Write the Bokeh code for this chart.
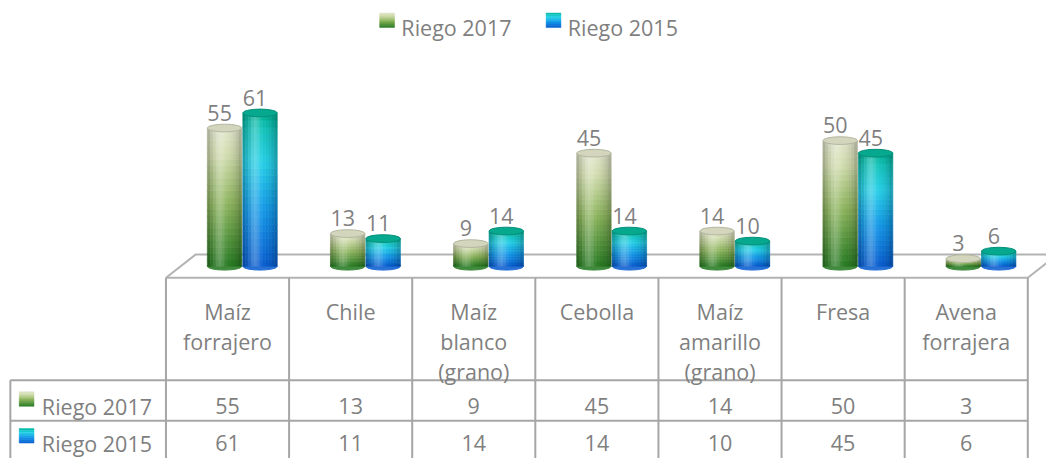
import math
from bokeh.plotting import figure
from bokeh.models import Range1d, ColumnDataSource
from bokeh.core.properties import value
from bokeh.embed import file_html
from bokeh.resources import INLINE

# ---------------- data ----------------
categories = ["Maíz\nforrajero", "Chile", "Maíz\nblanco\n(grano)", "Cebolla",
              "Maíz\namarillo\n(grano)", "Fresa", "Avena\nforrajera"]
riego_2017 = [55, 13, 9, 45, 14, 50, 3]
riego_2015 = [61, 11, 14, 14, 10, 45, 6]
series_names = ["Riego 2017", "Riego 2015"]

# ---------------- layout (reference pixel geometry, 1062 x 474) ----------------
W, H = 1046, 458
REF_W, REF_H = 1062, 474
COL0 = 230.5       # x centre of first category column
COLW = 125.0       # column width
BASE = 275.0       # y of value 0
PXU = 2.6          # pixels per value unit

def ux(X):
    return (X - COL0) / COLW

def vy(Y):
    return (BASE - Y) / PXU

FONT = value("Open Sans")
FSIZE = "21.5px"
TCOL = "#7f7f7f"
GRID = "#a6a6a6"

p = figure(width=W, height=H, output_backend="svg", toolbar_location=None,
           x_range=Range1d(ux(0), ux(REF_W)), y_range=Range1d(vy(REF_H), vy(0)),
           x_axis_location=None, y_axis_location=None, min_border=0,
           outline_line_color=None, background_fill_color="white",
           border_fill_color="white")
p.grid.visible = False

# ---------------- colours ----------------
stops = [
    [(0.0, (38, 122, 34)), (0.45, (140, 180, 92)), (0.8, (208, 220, 172)), (1.0, (226, 230, 204))],
    [(0.0, (8, 92, 208)), (0.35, (18, 150, 232)), (0.68, (36, 208, 232)), (0.9, (16, 196, 186)), (1.0, (0, 176, 148))],
]
cap_fill = ["#d3d6bd", "#06a88e"]
cap_line = ["#b4b7a0", "#04907a"]

def lerp_stops(st, f):
    for (f0, c0), (f1, c1) in zip(st, st[1:]):
        if f <= f1:
            t = (f - f0) / (f1 - f0)
            return tuple(c0[k] + (c1[k] - c0[k]) * t for k in range(3))
    return st[-1][1]

def to_hex(c):
    return "#%02x%02x%02x" % tuple(max(0, min(255, int(round(x)))) for x in c)

def shade(c, t):
    dark = 0.68 + 0.32 * math.sin(math.pi * t) ** 0.6
    hl = 0.26 * math.exp(-((t - 0.36) / 0.16) ** 2)
    r = [ch * dark for ch in c]
    r = [x + (255 - x) * hl for x in r]
    return to_hex(r)

# ---------------- floor ----------------
p.patch(x=[ux(168), ux(1043), ux(1073), ux(198)], y=[vy(287), vy(287), vy(263), vy(263)],
        fill_color="white", line_color="#b3b3b3", line_width=2)

# ---------------- table grid ----------------
x0, y0, x1, y1 = [], [], [], []
for k in range(len(categories) + 1):
    X = 168 + COLW * k
    x0.append(ux(X)); x1.append(ux(X)); y0.append(vy(287)); y1.append(vy(480))
x0.append(ux(10)); x1.append(ux(10)); y0.append(vy(393)); y1.append(vy(480))
for Y in (393, 435):
    x0.append(ux(10)); x1.append(ux(168 + COLW * len(categories))); y0.append(vy(Y)); y1.append(vy(Y))
p.segment(x0=x0, y0=y0, x1=x1, y1=y1, line_color=GRID, line_width=2)

# ---------------- cylinders ----------------
series = [riego_2017, riego_2015]
offs = [-3 / COLW, 33 / COLW]
BW = 35 / COLW
ELL = 8 / PXU
NV, NH = 22, 12

for s, vals in enumerate(series):
    ql, qr, qb, qt, qc = [], [], [], [], []
    ex, ey, ec = [], [], []
    tx, ty, tt = [], [], []
    for i, val in enumerate(vals):
        cx = i + offs[s]
        ex.append(cx); ey.append(0); ec.append(shade(lerp_stops(stops[s], 0.0), 0.5))
        for a in range(NV):
            b0 = val * a / NV
            b1 = val * (a + 1) / NV
            base_c = lerp_stops(stops[s], (a + 0.5) / NV)
            for h in range(NH):
                l = cx - BW / 2 + BW * h / NH
                ql.append(l); qr.append(l + BW / NH); qb.append(b0); qt.append(b1)
                qc.append(shade(base_c, (h + 0.5) / NH))
        tx.append(cx - 5 / COLW); ty.append(val + 16 / PXU); tt.append(str(val))
    p.ellipse(x=ex, y=ey, width=BW, height=ELL, fill_color=ec, line_color=ec)
    src = ColumnDataSource(dict(left=ql, right=qr, bottom=qb, top=qt, color=qc))
    p.quad(left="left", right="right", bottom="bottom", top="top", source=src,
           fill_color="color", line_color="color", line_width=0.6)
    p.ellipse(x=[i + offs[s] for i in range(len(vals))], y=vals, width=BW, height=ELL,
              fill_color=cap_fill[s], line_color=cap_line[s], line_width=1)
    p.text(x=tx, y=ty, text=tt, text_font=FONT, text_font_size=FSIZE, text_color=TCOL,
           text_align="center", text_baseline="alphabetic")

# ---------------- table header text ----------------
hx, hy, ht = [], [], []
for i, cat in enumerate(categories):
    for j, line in enumerate(cat.split("\n")):
        hx.append(i); hy.append(vy(322 + 31 * j)); ht.append(line)
p.text(x=hx, y=hy, text=ht, text_font=FONT, text_font_size=FSIZE, text_color=TCOL,
       text_align="center", text_baseline="alphabetic")

# ---------------- table values ----------------
row_base = [420, 458]
for s, vals in enumerate(series):
    p.text(x=list(range(len(vals))), y=[vy(row_base[s])] * len(vals), text=[str(v) for v in vals],
           text_font=FONT, text_font_size=FSIZE, text_color=TCOL,
           text_align="center", text_baseline="alphabetic")

# ---------------- swatches ----------------
def swatch(X0, Y0, size, s):
    n = 8
    L, R, B, T, C = [], [], [], [], []
    for k in range(n):
        ya = Y0 + size * k / n
        yb = Y0 + size * (k + 1) / n
        f = 1 - (k + 0.5) / n
        L.append(ux(X0)); R.append(ux(X0 + size)); T.append(vy(ya)); B.append(vy(yb))
        C.append(to_hex(lerp_stops(stops[s], f)))
    p.quad(left=L, right=R, bottom=B, top=T, fill_color=C, line_color=C, line_width=0.5)

# table row labels
for s in range(2):
    swatch(19, row_base[s] - 15, 15, s)
    p.text(x=[ux(42)], y=[vy(row_base[s])], text=[series_names[s]], text_font=FONT,
           text_font_size=FSIZE, text_color=TCOL, text_align="left", text_baseline="alphabetic")

# legend
leg_sq = [385, 554]
for s in range(2):
    swatch(leg_sq[s], 13, 15, s)
    p.text(x=[ux(leg_sq[s] + 22)], y=[vy(28)], text=[series_names[s]], text_font=FONT,
           text_font_size=FSIZE, text_color=TCOL, text_align="left", text_baseline="alphabetic")

open("out.html", "w").write(file_html(p, INLINE))
